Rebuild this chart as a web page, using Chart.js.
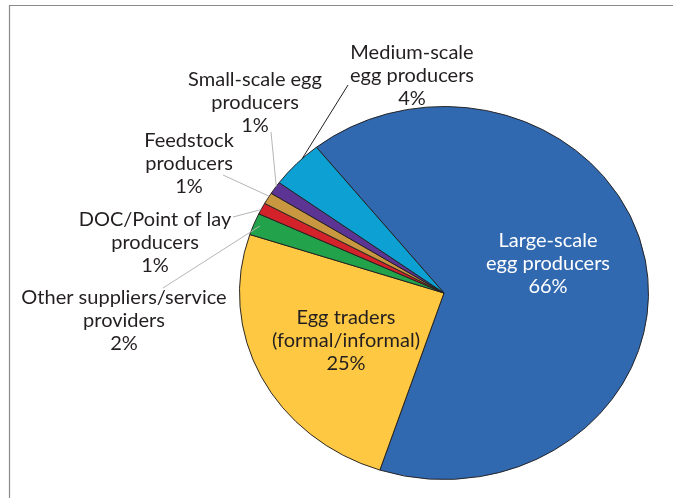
<!DOCTYPE html>
<html><head><meta charset="utf-8">
<script src="https://cdn.jsdelivr.net/npm/chart.js@4.4.1/dist/chart.umd.min.js"></script>
<style>html,body{margin:0;padding:0;background:#fff;}canvas{display:block;}</style>
</head><body>
<canvas id="c" width="673" height="498"></canvas>
<script>
// ---- data ----
const categories = ['Large-scale egg producers','Egg traders (formal/informal)','Other suppliers/service providers','DOC/Point of lay producers','Feedstock producers','Small-scale egg producers','Medium-scale egg producers'];
const labelLines = [['Large-scale','egg producers'],['Egg traders','(formal/informal)'],['Other suppliers/service','providers'],['DOC/Point of lay','producers'],['Feedstock','producers'],['Small-scale egg','producers'],['Medium-scale','egg producers']];
const shares = [65.8, 25.0, 1.9, 1.0, 1.0, 1.1, 4.2];
const colors = ['#3169b1','#fec843','#22a34b','#d3222a','#c8973f','#5c3494','#0ca0d3'];

// ---- layout (label placement relative to pie centre) ----
const SY = 0.912;           // vertical squash of the pie (ellipse)
const FONT = '20px Lato';
const LINE_H = 22.6;
const labelLayout = [
  {dx:104, dy:-52, color:'#ffffff'},
  {dx:-98, dy:25, color:'#231f20'},
  {dx:-320, dy:5, color:'#231f20', lead:{sx:-281, sy:-5, at:0.5, r:0.97, color:'#b5b5b5'}},
  {dx:-289, dy:-73, color:'#231f20', lead:{sx:-211, sy:-76, at:0.4, r:1.0, color:'#b5b5b5'}},
  {dx:-255, dy:-152, color:'#231f20', lead:{sx:-221, sy:-118, at:0.7, r:1.0, color:'#b5b5b5'}},
  {dx:-189, dy:-213, color:'#231f20', lead:{sx:-173, sy:-161, at:0.65, r:1.0, color:'#b5b5b5'}},
  {dx:-32, dy:-240, color:'#231f20', lead:{sx:-96, sy:-208, at:0.65, r:1.0, color:'#231f20'}}
];

const ellipsePlugin = {
  id:'ellipse',
  beforeDatasetsDraw(chart){
    const a = chart.getDatasetMeta(0).data[0];
    const ctx = chart.ctx;
    ctx.save();
    ctx.translate(a.x, a.y); ctx.scale(1, SY); ctx.translate(-a.x, -a.y);
  },
  afterDatasetsDraw(chart){ chart.ctx.restore(); }
};

const framePlugin = {
  id:'frame',
  beforeDraw(chart){
    const ctx = chart.ctx;
    ctx.save();
    ctx.strokeStyle = '#8a8a8a'; ctx.lineWidth = 1.2;
    ctx.beginPath();
    ctx.moveTo(9.5, chart.height); ctx.lineTo(9.5, 5.5); ctx.lineTo(chart.width, 5.5);
    ctx.stroke();
    ctx.restore();
  }
};

const labelPlugin = {
  id:'labels',
  afterDraw(chart){
    const ctx = chart.ctx;
    const arcs = chart.getDatasetMeta(0).data;
    const cx = arcs[0].x, cy = arcs[0].y;
    ctx.save();
    ctx.font = FONT;
    ctx.textAlign = 'center';
    ctx.textBaseline = 'middle';
    arcs.forEach((arc, i) => {
      const L = labelLayout[i];
      if (L.lead) {
        const ang = arc.startAngle + (arc.endAngle - arc.startAngle) * L.lead.at;
        const R = arc.outerRadius * L.lead.r;
        const ex = cx + R * Math.cos(ang), ey = cy + R * SY * Math.sin(ang);
        ctx.strokeStyle = L.lead.color; ctx.lineWidth = 1;
        ctx.beginPath(); ctx.moveTo(cx + L.lead.sx, cy + L.lead.sy); ctx.lineTo(ex, ey); ctx.stroke();
      }
      const lines = labelLines[i].concat([Math.round(shares[i]) + '%']);
      ctx.fillStyle = L.color;
      lines.forEach((t, k) => ctx.fillText(t, cx + L.dx, cy + L.dy + k * LINE_H));
    });
    ctx.restore();
  }
};

new Chart(document.getElementById('c'), {
  type:'pie',
  data:{ labels: categories, datasets:[{ data: shares, backgroundColor: colors, borderColor:'#231f20', borderWidth:1 }]},
  options:{
    responsive:false, animation:false,
    rotation:-38.6,
    layout:{ padding:{ left:238, right:23, top:88, bottom:0 } },
    plugins:{ legend:{display:false}, tooltip:{enabled:false} }
  },
  plugins:[framePlugin, ellipsePlugin, labelPlugin]
});
</script>
</body></html>
